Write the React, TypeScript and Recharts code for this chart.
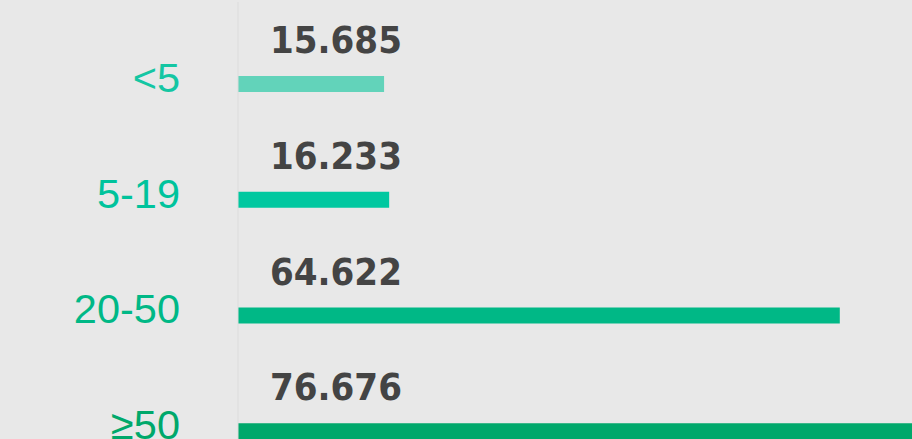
import React from "react";
import { BarChart, Bar, XAxis, YAxis, Cell, LabelList } from "recharts";

const categories = ["<5", "5-19", "20-50", "≥50"];
const values = [15.685, 16.233, 64.622, 76.676];
const valueLabels = ["15.685", "16.233", "64.622", "76.676"];
const barColors = ["#62d3ba", "#00c8a0", "#00b886", "#00a86b"];
const labelColors = ["#14c6a3", "#00c39c", "#00b886", "#00a86b"];

const data = categories.map((c, i) => ({ name: c, value: values[i], label: valueLabels[i] }));

const FONT = "'Liberation Sans', Arial, sans-serif";
const VFONT = "'DejaVu Sans Condensed', 'Liberation Sans', sans-serif";

const Tick = (props: any) => {
  const { x, y, payload, index } = props;
  return (
    <text x={x - 50} y={y + 8} textAnchor="end" fill={labelColors[index]} fontSize={41.5} fontFamily={FONT}>
      {payload.value}
    </text>
  );
};

const ValueLabel = (props: any) => {
  const { x, y, index } = props;
  return (
    <text x={x + 32} y={y - 23} fill="#444444" fontSize={38} fontWeight={700} style={{ fontStretch: "condensed" }} fontFamily={VFONT}>
      {valueLabels[index]}
    </text>
  );
};

export default function App() {
  return (
    <div style={{ position: "absolute", left: 0, top: 0, width: 912, height: 439, overflow: "hidden", background: "#e8e8e8" }}>
      <BarChart
        width={983}
        height={489}
        data={data}
        layout="vertical"
        margin={{ top: 2, right: 0, bottom: 0, left: 0 }}
      >
        <XAxis type="number" domain={[0, 80]} hide />
        <YAxis
          type="category"
          dataKey="name"
          width={238}
          padding={{ top: 24, bottom: 0 }}
          axisLine={{ stroke: "#dcdcdc", strokeWidth: 1 }}
          tickLine={false}
          tick={<Tick />}
        />
        <Bar dataKey="value" barSize={16} isAnimationActive={false}>
          {data.map((d, i) => (
            <Cell key={d.name} fill={barColors[i]} />
          ))}
          <LabelList dataKey="label" content={<ValueLabel />} />
        </Bar>
      </BarChart>
    </div>
  );
}
